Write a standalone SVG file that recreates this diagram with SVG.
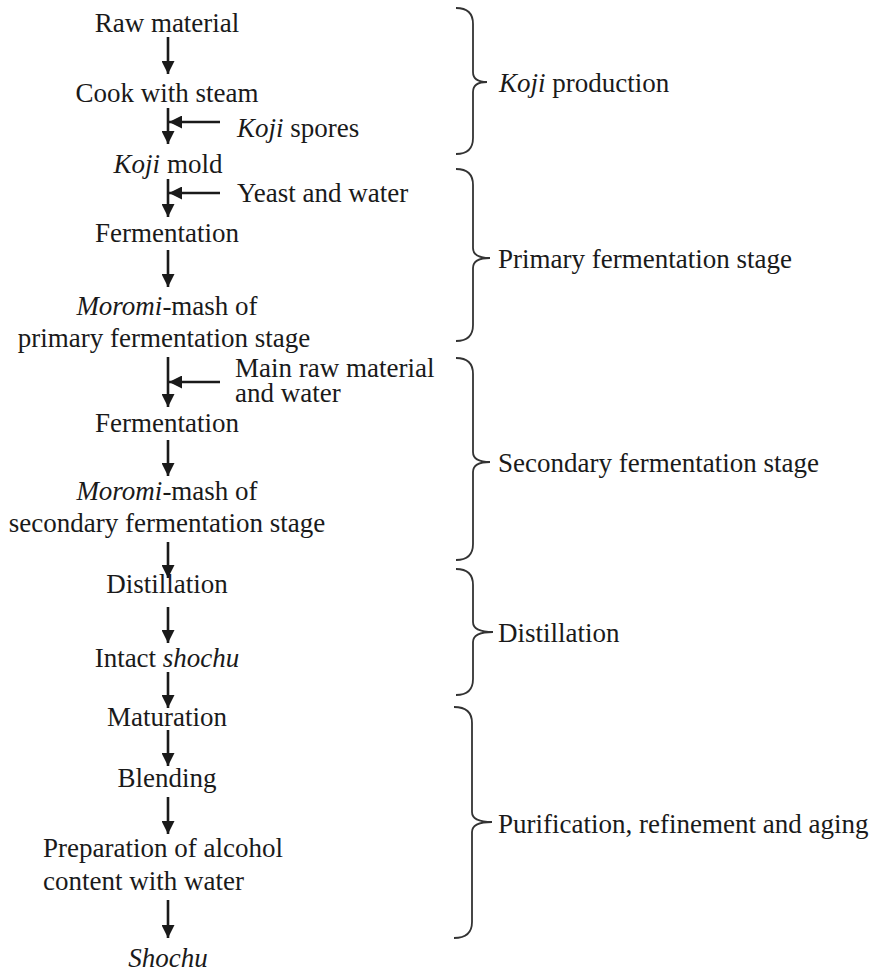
<svg xmlns="http://www.w3.org/2000/svg" width="873" height="970" viewBox="0 0 873 970" font-family="Liberation Serif">
  <style>
    svg text, svg tspan { font-family: "Liberation Serif", "Times New Roman", serif !important; }
    .t { font-size: 27px; fill: #1a1a1a; }
    .c { text-anchor: middle; }
    .i { font-style: italic; }
    .flow { stroke: #1a1a1a; stroke-width: 2.6; fill: none; }
    .brace { stroke: #333; stroke-width: 1.8; fill: none; }
  </style>
  <defs>
    <marker id="head" viewBox="0 0 10 10" refX="10" refY="5" markerWidth="5" markerHeight="5" markerUnits="strokeWidth" orient="auto">
      <path d="M0,0 L10,5 L0,10 z" fill="#1a1a1a"/>
    </marker>
  </defs>
  <rect width="873" height="970" fill="#fff"/>

  <!-- process steps -->
  <g id="raw-material"><text class="t c" font-family="Liberation Serif" x="167" y="32">Raw material</text></g>
  <g id="cook"><text class="t c" font-family="Liberation Serif" x="167" y="102">Cook with steam</text></g>
  <g id="koji-spores"><text class="t" font-family="Liberation Serif" x="237" y="137"><tspan class="i">Koji</tspan> spores</text></g>
  <g id="koji-mold"><text class="t c" font-family="Liberation Serif" x="168" y="173"><tspan class="i">Koji</tspan> mold</text></g>
  <g id="yeast-water"><text class="t" font-family="Liberation Serif" x="237" y="202">Yeast and water</text></g>
  <g id="fermentation-1"><text class="t c" font-family="Liberation Serif" x="167" y="242">Fermentation</text></g>
  <g id="moromi-primary">
    <text class="t c" font-family="Liberation Serif" x="167" y="315"><tspan class="i">Moromi</tspan>-mash of</text>
    <text class="t c" font-family="Liberation Serif" x="164" y="347">primary fermentation stage</text>
  </g>
  <g id="main-raw-water">
    <text class="t" font-family="Liberation Serif" x="235" y="377">Main raw material</text>
    <text class="t" font-family="Liberation Serif" x="235" y="402">and water</text>
  </g>
  <g id="fermentation-2"><text class="t c" font-family="Liberation Serif" x="167" y="432">Fermentation</text></g>
  <g id="moromi-secondary">
    <text class="t c" font-family="Liberation Serif" x="167" y="500"><tspan class="i">Moromi</tspan>-mash of</text>
    <text class="t c" font-family="Liberation Serif" x="167" y="532">secondary fermentation stage</text>
  </g>
  <g id="distillation"><text class="t c" font-family="Liberation Serif" x="167" y="593">Distillation</text></g>
  <g id="intact-shochu"><text class="t c" font-family="Liberation Serif" x="167" y="667">Intact <tspan class="i">shochu</tspan></text></g>
  <g id="maturation"><text class="t c" font-family="Liberation Serif" x="167" y="726">Maturation</text></g>
  <g id="blending"><text class="t c" font-family="Liberation Serif" x="167" y="787">Blending</text></g>
  <g id="preparation">
    <text class="t" font-family="Liberation Serif" x="43" y="857">Preparation of alcohol</text>
    <text class="t" font-family="Liberation Serif" x="43" y="890">content with water</text>
  </g>
  <g id="shochu"><text class="t c i" font-family="Liberation Serif" x="168" y="967">Shochu</text></g>

  <!-- stage labels -->
  <g id="stage-koji"><text class="t" font-family="Liberation Serif" x="499" y="92"><tspan class="i">Koji</tspan> production</text></g>
  <g id="stage-primary"><text class="t" font-family="Liberation Serif" x="498" y="268">Primary fermentation stage</text></g>
  <g id="stage-secondary"><text class="t" font-family="Liberation Serif" x="498" y="472">Secondary fermentation stage</text></g>
  <g id="stage-distillation"><text class="t" font-family="Liberation Serif" x="498" y="642">Distillation</text></g>
  <g id="stage-purification"><text class="t" font-family="Liberation Serif" x="498" y="833">Purification, refinement and aging</text></g>

  <!-- connectors -->
  <g id="connectors">
    <line class="flow" x1="168" y1="37" x2="168" y2="74" marker-end="url(#head)"/>
    <line class="flow" x1="168" y1="108" x2="168" y2="144" marker-end="url(#head)"/>
    <line class="flow" x1="220" y1="122" x2="169" y2="122" marker-end="url(#head)"/>
    <line class="flow" x1="168" y1="179" x2="168" y2="217" marker-end="url(#head)"/>
    <line class="flow" x1="220" y1="193" x2="169" y2="193" marker-end="url(#head)"/>
    <line class="flow" x1="168" y1="250" x2="168" y2="287" marker-end="url(#head)"/>
    <line class="flow" x1="168" y1="357" x2="168" y2="407" marker-end="url(#head)"/>
    <line class="flow" x1="220" y1="382" x2="169" y2="382" marker-end="url(#head)"/>
    <line class="flow" x1="168" y1="440" x2="168" y2="476" marker-end="url(#head)"/>
    <line class="flow" x1="168" y1="542" x2="168" y2="578" marker-end="url(#head)"/>
    <line class="flow" x1="168" y1="607" x2="168" y2="643" marker-end="url(#head)"/>
    <line class="flow" x1="168" y1="672" x2="168" y2="708" marker-end="url(#head)"/>
    <line class="flow" x1="168" y1="730" x2="168" y2="766" marker-end="url(#head)"/>
    <line class="flow" x1="168" y1="797" x2="168" y2="834" marker-end="url(#head)"/>
    <line class="flow" x1="168" y1="900" x2="168" y2="938" marker-end="url(#head)"/>
  </g>

  <!-- stage braces -->
  <g id="braces">
    <path class="brace" d="M456,8 Q473,8 473,24 L473,72 Q473,82 487,82 Q473,82 473,92 L473,138 Q473,154 456,154"/>
    <path class="brace" d="M456,169 Q473,169 473,185 L473,248 Q473,258 490,258 Q473,258 473,268 L473,325 Q473,341 456,341"/>
    <path class="brace" d="M456,358 Q473,358 473,374 L473,452 Q473,462 490,462 Q473,462 473,472 L473,544 Q473,560 456,560"/>
    <path class="brace" d="M456,569 Q473,569 473,585 L473,622 Q473,632 493,632 Q473,632 473,642 L473,679 Q473,695 456,695"/>
    <path class="brace" d="M454,707 Q472,707 472,723 L472,812 Q472,822 492,822 Q472,822 472,832 L472,922 Q472,938 454,938"/>
  </g>
</svg>
